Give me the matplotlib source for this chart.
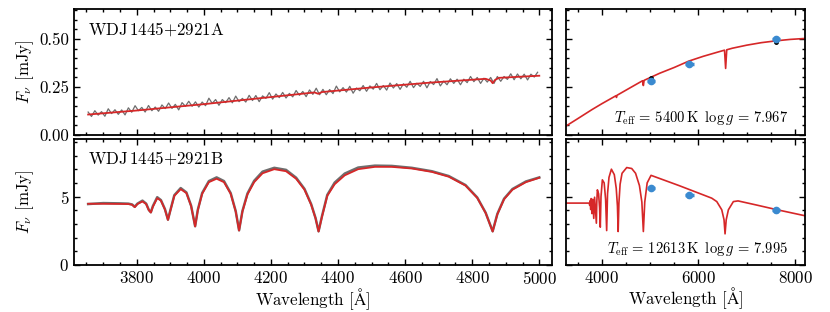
import numpy as np
import matplotlib
matplotlib.use("Agg")
import matplotlib.pyplot as plt
from matplotlib.ticker import MultipleLocator, FormatStrFormatter

plt.rcParams['font.family'] = 'serif'
plt.rcParams['font.serif'] = ['cmr10']
plt.rcParams['mathtext.fontset'] = 'cm'
plt.rcParams['axes.formatter.use_mathtext'] = True
plt.rcParams['font.size'] = 12.2

# --- WDJ1445+2921A: spectrum (10 A grid) and model
wave_a_obs = np.arange(3655, 5000, 10)
flux_a_obs = [0.120, 0.097, 0.127, 0.104, 0.122, 0.098, 0.137, 0.112, 0.132, 0.108,
              0.131, 0.105, 0.142, 0.119, 0.153, 0.127, 0.144, 0.120, 0.154, 0.127,
              0.146, 0.124, 0.157, 0.138, 0.167, 0.139, 0.160, 0.131, 0.169, 0.150,
              0.176, 0.150, 0.173, 0.146, 0.172, 0.153, 0.192, 0.165, 0.185, 0.155,
              0.185, 0.169, 0.195, 0.168, 0.203, 0.174, 0.191, 0.172, 0.207, 0.180,
              0.206, 0.174, 0.204, 0.191, 0.221, 0.187, 0.214, 0.195, 0.222, 0.193,
              0.217, 0.199, 0.232, 0.207, 0.227, 0.200, 0.235, 0.212, 0.244, 0.210,
              0.238, 0.210, 0.237, 0.216, 0.255, 0.225, 0.247, 0.224, 0.254, 0.218,
              0.245, 0.231, 0.258, 0.228, 0.256, 0.239, 0.269, 0.236, 0.258, 0.234,
              0.271, 0.245, 0.268, 0.238, 0.267, 0.249, 0.280, 0.247, 0.270, 0.253,
              0.280, 0.246, 0.279, 0.263, 0.294, 0.256, 0.281, 0.262, 0.293, 0.269,
              0.291, 0.262, 0.291, 0.273, 0.305, 0.278, 0.300, 0.269, 0.296, 0.276,
              0.300, 0.269, 0.305, 0.280, 0.305, 0.290, 0.319, 0.288, 0.318, 0.293,
              0.317, 0.287, 0.317, 0.302, 0.327]
wave_a_mod = [3655, 3800, 4000, 4200, 4330, 4341, 4352, 4500, 4674, 4840, 4855,
              4861, 4868, 4880, 5000]
flux_a_mod = [0.107, 0.128, 0.161, 0.198, 0.222, 0.215, 0.224, 0.248, 0.273, 0.293,
              0.284, 0.270, 0.287, 0.298, 0.309]

# --- WDJ1445+2921B: spectrum and model
wave_b = [3655, 3700, 3750, 3775, 3786, 3794, 3802, 3817, 3828, 3836, 3842, 3848,
          3861, 3872, 3884, 3893, 3900, 3912, 3931, 3948, 3962, 3974, 3982, 3995,
          4015, 4038, 4060, 4080, 4095, 4105, 4115, 4130, 4150, 4175, 4210, 4245,
          4275, 4300, 4320, 4333, 4342, 4352, 4368, 4390, 4420, 4460, 4510, 4560,
          4620, 4680, 4730, 4780, 4815, 4840, 4861, 4875, 4895, 4920, 4960, 5000]
flux_b_mod = [4.47, 4.47, 4.46, 4.45, 4.40, 4.22, 4.45, 4.64, 4.45, 4.00, 3.83, 4.25,
              4.88, 4.70, 4.05, 3.29, 3.95, 5.05, 5.54, 5.25, 4.30, 2.81, 4.00, 5.20,
              6.05, 6.30, 6.05, 5.20, 3.90, 2.51, 3.90, 5.15, 6.05, 6.70, 7.00, 6.85,
              6.30, 5.50, 4.40, 3.40, 2.44, 3.50, 5.05, 5.90, 6.55, 7.00, 7.17, 7.17,
              7.05, 6.80, 6.45, 5.80, 4.90, 3.80, 2.44, 3.70, 4.80, 5.50, 6.05, 6.37]
flux_b_obs = [4.45, 4.52, 4.50, 4.48, 4.42, 4.25, 4.48, 4.70, 4.48, 4.02, 3.85, 4.30,
              4.95, 4.74, 4.08, 3.31, 3.98, 5.10, 5.62, 5.30, 4.33, 2.83, 4.03, 5.26,
              6.13, 6.40, 6.13, 5.25, 3.93, 2.53, 3.94, 5.22, 6.15, 6.82, 7.10, 6.95,
              6.38, 5.56, 4.44, 3.43, 2.46, 3.55, 5.12, 6.02, 6.68, 7.12, 7.26, 7.24,
              7.10, 6.85, 6.50, 5.84, 4.93, 3.82, 2.46, 3.73, 4.84, 5.55, 6.10, 6.40]

# --- full model SEDs and photometry
sed_wave_a = [3260, 3500, 3800, 4000, 4295, 4305, 4315, 4600, 4845, 4861, 4877,
              5200, 5500, 5800, 6100, 6400, 6540, 6563, 6586, 6700, 7000, 7300,
              7620, 7900, 8210]
sed_flux_a = [0.047, 0.085, 0.133, 0.163, 0.205, 0.196, 0.207, 0.248, 0.283, 0.258,
              0.285, 0.322, 0.352, 0.385, 0.410, 0.432, 0.442, 0.347, 0.444, 0.452,
              0.468, 0.481, 0.491, 0.498, 0.503]
sed_wave_b = [3260, 3650, 3740, 3752, 3762, 3772, 3782, 3798, 3815, 3835, 3852,
              3889, 3898, 3910, 3935, 3955, 3970, 3985, 4013, 4050, 4080, 4102,
              4120, 4150, 4200, 4260, 4300, 4325, 4340, 4355, 4380, 4420, 4517,
              4620, 4700, 4780, 4830, 4861, 4890, 4940, 5020, 5600, 6100, 6276,
              6380, 6483, 6530, 6551, 6575, 6620, 6723, 6820, 7200, 7607, 8210]
sed_flux_b = [4.52, 4.52, 4.52, 4.35, 4.70, 4.05, 4.85, 3.75, 4.80, 3.40, 4.95,
              3.05, 4.60, 5.49, 5.20, 4.20, 2.76, 5.00, 6.22, 6.00, 4.80, 2.51,
              5.20, 6.40, 7.00, 6.60, 5.60, 4.30, 2.44, 4.50, 5.90, 6.70, 7.12,
              7.05, 6.70, 5.80, 4.60, 2.44, 4.60, 6.00, 6.55, 5.80, 5.12, 4.88,
              4.63, 4.03, 3.30, 2.27, 3.30, 4.03, 4.63, 4.68, 4.38, 4.05, 3.59]

phot_wave = [5020, 5812, 7605]
phot_width = [90, 90, 90]
phot_a = [0.283, 0.371, 0.498]
synth_a = [0.295, 0.374, 0.483]
phot_b = [5.61, 5.10, 3.98]
synth_b = [5.61, 5.05, 3.95]

red = '#d62728'
grey = '#6e6e6e'
blue = '#3a8ad0'

fig = plt.figure(figsize=(8.3, 3.12), dpi=100)
ax1 = fig.add_axes([0.0892, 0.567, 0.5759, 0.404])
ax2 = fig.add_axes([0.0892, 0.151, 0.5759, 0.404], sharex=ax1)
ax3 = fig.add_axes([0.682, 0.567, 0.288, 0.404], sharey=ax1)
ax4 = fig.add_axes([0.682, 0.151, 0.288, 0.404], sharex=ax3, sharey=ax2)

ax1.plot(wave_a_obs, flux_a_obs, color=grey, lw=0.9)
ax1.plot(wave_a_mod, flux_a_mod, color=red, lw=1.3)
ax2.plot(wave_b, flux_b_obs, color=grey, lw=1.8)
ax2.plot(wave_b, flux_b_mod, color=red, lw=1.3)

ax3.plot(sed_wave_a, sed_flux_a, color=red, lw=1.2)
ax3.errorbar(phot_wave, phot_a, xerr=phot_width, fmt='o', color=blue, ms=4.5,
             elinewidth=2.5, capsize=0)
ax3.plot(phot_wave, synth_a, 'o', color='k', ms=2.5)
ax4.plot(sed_wave_b, sed_flux_b, color=red, lw=1.2)
ax4.errorbar(phot_wave, phot_b, xerr=phot_width, fmt='o', color=blue, ms=4.5,
             elinewidth=2.5, capsize=0)
ax4.plot(phot_wave, synth_b, 'o', color='k', ms=2.5)

ax1.set_xlim(3613, 5038)
ax3.set_xlim(3262, 8207)
ax1.set_ylim(0, 0.656)
ax2.set_ylim(0, 9.22)

ax1.xaxis.set_major_locator(MultipleLocator(200))
ax1.xaxis.set_minor_locator(MultipleLocator(50))
ax3.xaxis.set_major_locator(MultipleLocator(2000))
ax3.xaxis.set_minor_locator(MultipleLocator(500))
ax1.yaxis.set_major_locator(MultipleLocator(0.25))
ax1.yaxis.set_minor_locator(MultipleLocator(0.05))
ax2.yaxis.set_major_locator(MultipleLocator(5))
ax2.yaxis.set_minor_locator(MultipleLocator(1))
ax1.yaxis.set_major_formatter(FormatStrFormatter('%.2f'))

for ax in [ax1, ax2, ax3, ax4]:
    ax.tick_params(which='both', direction='in', top=True, right=True, width=1.0)
    ax.tick_params(which='major', length=4.5)
    ax.tick_params(which='minor', length=2.5)
    for sp in ax.spines.values():
        sp.set_linewidth(1.3)

ax1.tick_params(labelbottom=False)
ax3.tick_params(labelbottom=False, labelleft=False)
ax4.tick_params(labelleft=False)

ax1.set_ylabel(r'$F_\nu$ [mJy]')
ax2.set_ylabel(r'$F_\nu$ [mJy]')
ax1.yaxis.set_label_coords(-0.080, 0.5)
ax2.yaxis.set_label_coords(-0.080, 0.5)
ax2.set_xlabel(r'Wavelength [$\mathrm{\AA}$]', labelpad=0)
ax4.set_xlabel(r'Wavelength [$\mathrm{\AA}$]', labelpad=0)

ax1.text(0.029, 0.84, r'WDJ$\,$1445$+$2921A', transform=ax1.transAxes, va='center')
ax2.text(0.029, 0.85, r'WDJ$\,$1445$+$2921B', transform=ax2.transAxes, va='center')
ax3.text(0.93, 0.135, r'$T_{\rm eff}\,=\,5400\,{\rm K}\;\;\log g\,=\,7.967$',
         transform=ax3.transAxes, ha='right', va='center', fontsize=10.5)
ax4.text(0.93, 0.127, r'$T_{\rm eff}\,=\,12613\,{\rm K}\;\;\log g\,=\,7.995$',
         transform=ax4.transAxes, ha='right', va='center', fontsize=10.5)

fig.savefig('out.png', dpi=100)
